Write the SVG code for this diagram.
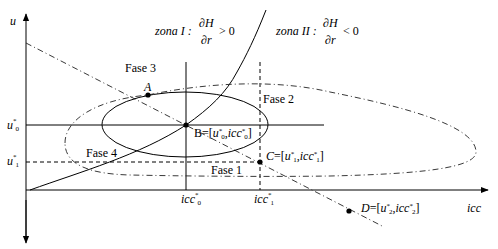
<svg xmlns="http://www.w3.org/2000/svg" width="498" height="249" viewBox="0 0 498 249">
<style>
text{font-family:"Liberation Serif","Times New Roman",serif;font-size:12px;fill:#000}
.i{font-style:italic}
.s{font-size:7px}
.ln{fill:none;stroke:#000;stroke-width:1}
.dash{fill:none;stroke:#000;stroke-width:1;stroke-dasharray:4,3}
.dd{fill:none;stroke:#222;stroke-width:0.9;stroke-dasharray:6,3,1,3}
.pt{fill:#000}
</style>
<defs>
<marker id="ah" viewBox="0 0 10 10" refX="9" refY="5" markerWidth="8" markerHeight="8" markerUnits="userSpaceOnUse" orient="auto">
<path d="M0,1 L10,5 L0,9 z" fill="#000"/>
</marker>
</defs>
<rect width="498" height="249" fill="#fff"/>
<g id="axes">
<line class="ln" x1="26" y1="240" x2="26" y2="14" marker-end="url(#ah)"/>
<line class="ln" x1="26" y1="200" x2="26" y2="243" marker-end="url(#ah)"/>
<line class="ln" x1="26" y1="190" x2="488" y2="190" marker-end="url(#ah)"/>
</g>
<g id="connectors">
<line class="ln" x1="26" y1="125" x2="324" y2="125"/>
<line class="dash" x1="26" y1="162" x2="260" y2="162"/>
<line class="ln" x1="186" y1="62" x2="186" y2="190"/>
<line class="dash" x1="260" y1="62" x2="260" y2="190"/>
<line class="dd" x1="26" y1="43" x2="384" y2="227"/>
<path class="ln" d="M30,190 C80,172 140,155 186,125 C210,108 226,93 237,72 C246,56 255,38 266,10"/>
<ellipse class="ln" cx="185" cy="124.5" rx="83" ry="32.5"/>
<path class="dd" d="M65,143 C65,120 95,100 148,95 C200,84 270,78 330,92 C400,106 476,125 476,152 C476,168 420,174 330,176 C260,177 180,176 130,175 C90,174 65,165 65,143 Z"/>
</g>
<g id="points">
<circle class="pt" cx="148" cy="95" r="2.6"/>
<circle class="pt" cx="186" cy="125" r="2.6"/>
<circle class="pt" cx="260" cy="162" r="2.6"/>
<circle class="pt" cx="349" cy="211" r="2.6"/>
</g>
<g id="labels" font-family="Liberation Serif, serif">
<text class="i" x="10" y="25">u</text>
<text x="7" y="129"><tspan class="i">u</tspan><tspan class="s" dy="-6">*</tspan><tspan class="s" dx="-1" dy="8">0</tspan></text>
<text x="7" y="165"><tspan class="i">u</tspan><tspan class="s" dy="-6">*</tspan><tspan class="s" dx="-1" dy="8">1</tspan></text>
<text x="181" y="203"><tspan class="i">icc</tspan><tspan class="s" dy="-6">*</tspan><tspan class="s" dx="-1" dy="8">0</tspan></text>
<text x="254" y="203"><tspan class="i">icc</tspan><tspan class="s" dy="-6">*</tspan><tspan class="s" dx="-1" dy="8">1</tspan></text>
<text class="i" x="467" y="212">icc</text>
<text class="i" x="144" y="91">A</text>
<text x="194" y="137" font-size="11.5">B=[<tspan class="i">u</tspan><tspan class="s" dy="-4">*</tspan><tspan class="s" dx="-1" dy="6">0</tspan><tspan dy="-2">,</tspan><tspan class="i">icc</tspan><tspan class="s" dy="-4">*</tspan><tspan class="s" dx="-1" dy="6">0</tspan><tspan dy="-2">]</tspan></text>
<text x="266" y="160" font-size="11.5"><tspan class="i">C</tspan>=[<tspan class="i">u</tspan><tspan class="s" dy="-4">*</tspan><tspan class="s" dx="-1" dy="6">1</tspan><tspan dy="-2">,</tspan><tspan class="i">icc</tspan><tspan class="s" dy="-4">*</tspan><tspan class="s" dx="-1" dy="6">1</tspan><tspan dy="-2">]</tspan></text>
<text x="361" y="212" font-size="11.5"><tspan class="i">D</tspan>=[<tspan class="i">u</tspan><tspan class="s" dy="-4">*</tspan><tspan class="s" dx="-1" dy="6">2</tspan><tspan dy="-2">,</tspan><tspan class="i">icc</tspan><tspan class="s" dy="-4">*</tspan><tspan class="s" dx="-1" dy="6">2</tspan><tspan dy="-2">]</tspan></text>
<text x="125" y="72" font-size="13">Fase 3</text>
<text x="263" y="103" font-size="13">Fase 2</text>
<text x="86" y="157" font-size="13">Fase 4</text>
<text x="211" y="174" font-size="13">Fase 1</text>
<text class="i" x="155" y="35">zona I :</text>
<text class="i" x="199" y="27">∂H</text>
<text class="i" x="201" y="44">∂r</text>
<text x="219" y="35">&gt; 0</text>
<text class="i" x="276" y="35">zona II :</text>
<text class="i" x="323" y="27">∂H</text>
<text class="i" x="325" y="44">∂r</text>
<text x="343" y="35">&lt; 0</text>
</g>
</svg>
